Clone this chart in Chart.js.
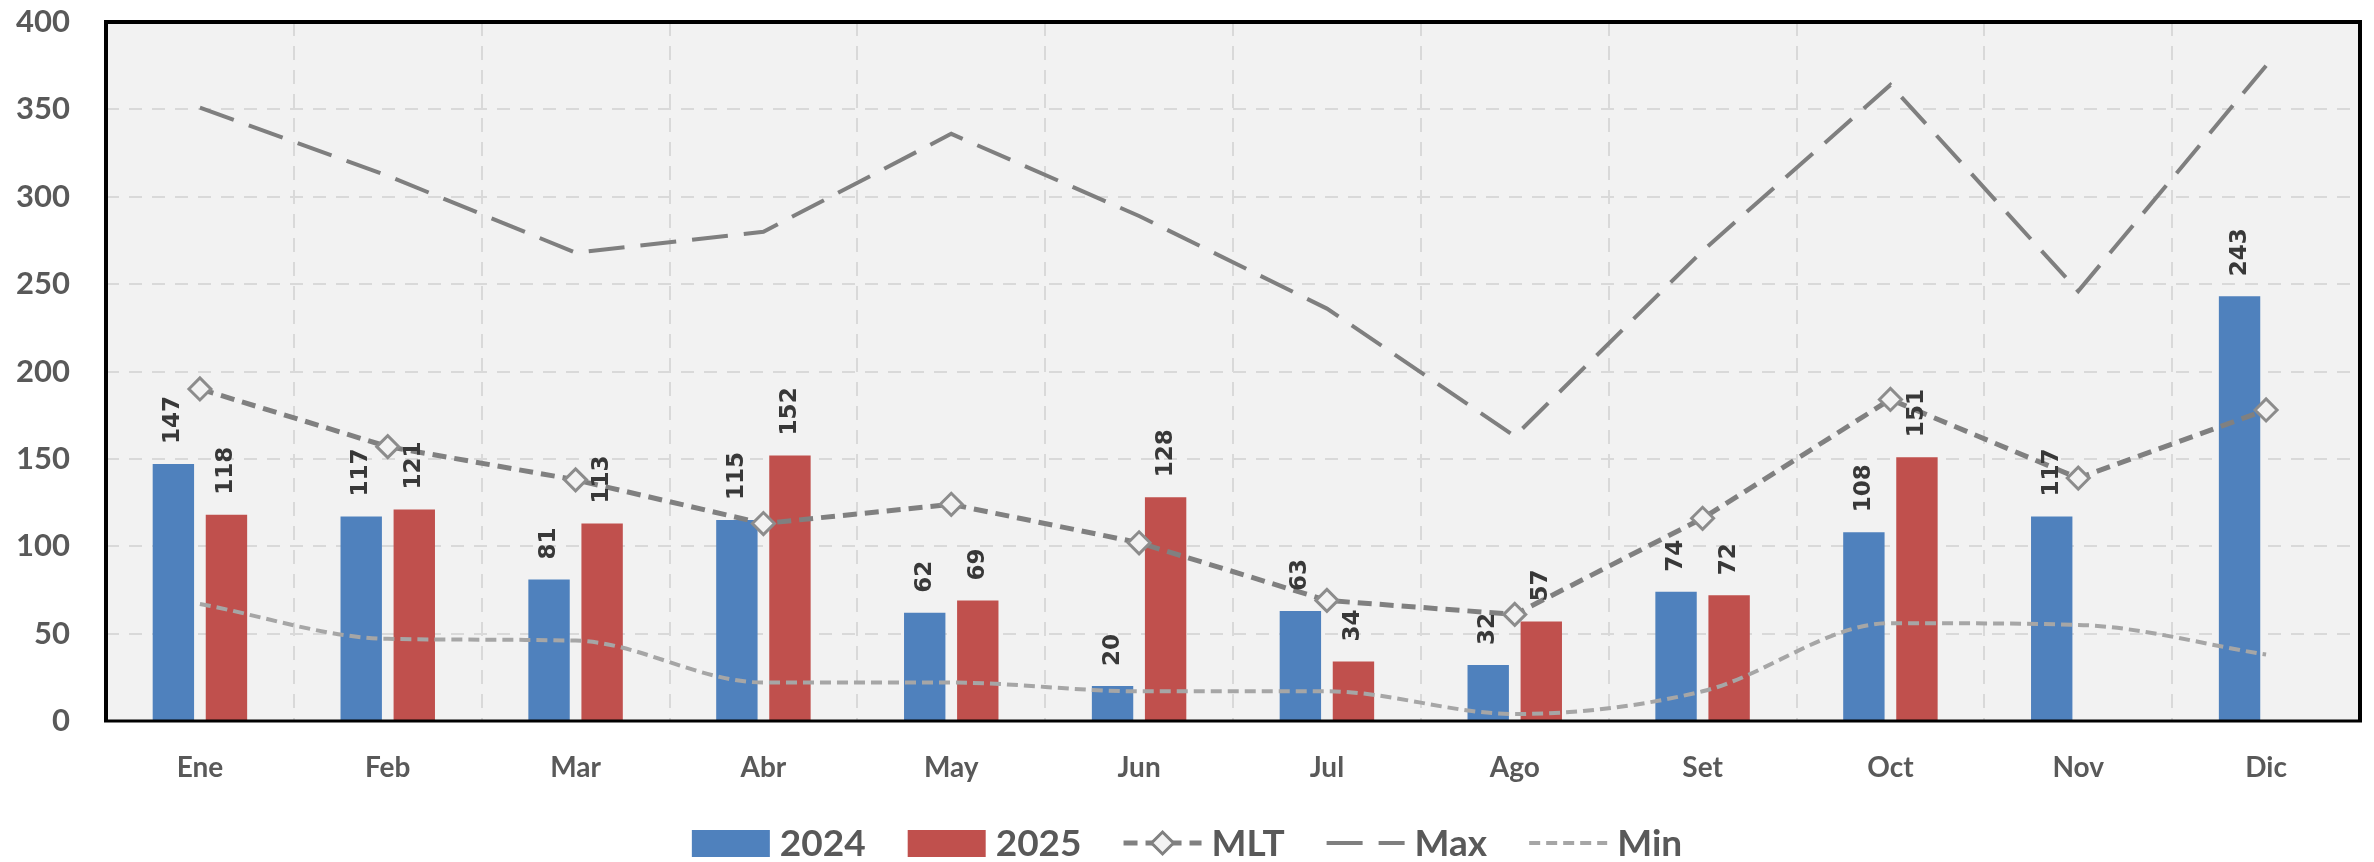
<!DOCTYPE html>
<html>
<head>
<meta charset="utf-8">
<script src="https://cdn.jsdelivr.net/npm/chart.js@4/dist/chart.umd.min.js"></script>
<style>
  html, body { margin: 0; padding: 0; background: #fff; }
  #wrap { width: 2374px; height: 862px; }
</style>
</head>
<body>
<div id="wrap"><canvas id="chart" width="2374" height="862"></canvas></div>
<script>
// data
const months = ['Ene', 'Feb', 'Mar', 'Abr', 'May', 'Jun', 'Jul', 'Ago', 'Set', 'Oct', 'Nov', 'Dic'];
const values2024 = [147, 117, 81, 115, 62, 20, 63, 32, 74, 108, 117, 243];
const values2025 = [118, 121, 113, 152, 69, 128, 34, 57, 72, 151, null, null];
const mltValues = [190, 157, 138, 113, 124, 102, 69, 61, 116, 184, 139, 178];
const maxValues = [351, 312, 268, 280, 336, 289, 236, 163, 269, 364, 246, 375];
const minValues = [67, 47, 46, 22, 22, 17, 17, 4, 17, 56, 55, 38];
const yTicks = [0, 50, 100, 150, 200, 250, 300, 350, 400];

const tickColor = '#595959';

// plot background and canvas background
const bgPlugin = {
  id: 'bg',
  beforeDraw(chart) {
    const { ctx, chartArea: a } = chart;
    ctx.save();
    ctx.fillStyle = '#ffffff';
    ctx.fillRect(0, 0, chart.width, chart.height);
    ctx.fillStyle = '#f2f2f2';
    ctx.fillRect(a.left, a.top, a.right - a.left, a.bottom - a.top);
    ctx.restore();
  }
};

// black frame round the plot, then the rotated bar labels
const frameAndLabels = {
  id: 'frameLabels',
  afterDatasetsDraw(chart) {
    const { ctx, chartArea: a } = chart;
    ctx.save();
    ctx.strokeStyle = '#000';
    ctx.lineWidth = 4;
    ctx.beginPath();
    ctx.moveTo(a.left, a.bottom);
    ctx.lineTo(a.left, a.top);
    ctx.lineTo(a.right, a.top);
    ctx.lineTo(a.right, a.bottom);
    ctx.stroke();
    ctx.lineWidth = 3;
    ctx.beginPath();
    ctx.moveTo(a.left - 2, a.bottom);
    ctx.lineTo(a.right + 2, a.bottom);
    ctx.stroke();

    ctx.fillStyle = '#383838';
    ctx.font = 'bold 23px "DejaVu Sans"';
    ctx.textAlign = 'left';
    ctx.textBaseline = 'middle';
    [0, 1].forEach(i => {
      const meta = chart.getDatasetMeta(i);
      const vals = chart.data.datasets[i].data;
      meta.data.forEach((bar, j) => {
        if (vals[j] == null) return;
        ctx.save();
        ctx.translate(bar.x, bar.y - 20);
        ctx.rotate(-Math.PI / 2);
        ctx.fillText(String(vals[j]), 0, 0);
        ctx.restore();
      });
    });
    ctx.restore();
  }
};

// legend drawn under the axis
const legendPlugin = {
  id: 'bottomLegend',
  afterDraw(chart) {
    const { ctx } = chart;
    const ds = chart.data.datasets;
    const cy = 843;
    const symW = 78, textGap = 10, itemGap = 42;
    ctx.save();
    ctx.font = 'bold 37px Lato';
    ctx.textBaseline = 'middle';
    const widths = ds.map(d => symW + textGap + ctx.measureText(d.label).width);
    const total = widths.reduce((s, w) => s + w, 0) + itemGap * (ds.length - 1);
    let x = chart.width / 2 - total / 2;
    ds.forEach((d, i) => {
      if (d.type === 'line') {
        ctx.save();
        ctx.strokeStyle = d.borderColor;
        ctx.lineWidth = d.borderWidth;
        ctx.setLineDash(d.borderDash || []);
        ctx.beginPath();
        ctx.moveTo(x, cy);
        ctx.lineTo(x + symW, cy);
        ctx.stroke();
        ctx.restore();
        if (d.pointRadius > 0) {
          const r = d.pointRadius;
          const mx = x + symW / 2;
          ctx.save();
          ctx.fillStyle = d.pointBackgroundColor;
          ctx.strokeStyle = d.borderColor;
          ctx.lineWidth = d.pointBorderWidth;
          ctx.beginPath();
          ctx.moveTo(mx, cy - r);
          ctx.lineTo(mx + r, cy);
          ctx.lineTo(mx, cy + r);
          ctx.lineTo(mx - r, cy);
          ctx.closePath();
          ctx.fill();
          ctx.stroke();
          ctx.restore();
        }
      } else {
        ctx.fillStyle = d.backgroundColor;
        ctx.fillRect(x, cy - 13, symW, 27);
      }
      ctx.fillStyle = tickColor;
      ctx.fillText(d.label, x + symW + textGap, cy + 1);
      x += widths[i] + itemGap;
    });
    ctx.restore();
  }
};

new Chart(document.getElementById('chart'), {
  type: 'bar',
  data: {
    labels: months,
    datasets: [
      {
        type: 'bar', label: '2024', data: values2024,
        backgroundColor: '#4f81bd', order: 3,
        categoryPercentage: 0.565, barPercentage: 0.78
      },
      {
        type: 'bar', label: '2025', data: values2025,
        backgroundColor: '#c0504d', order: 3,
        categoryPercentage: 0.565, barPercentage: 0.78
      },
      {
        type: 'line', label: 'MLT', data: mltValues,
        borderColor: '#808080', borderWidth: 5, borderDash: [14, 8],
        tension: 0, pointStyle: 'rectRot', pointRadius: 11,
        pointBorderWidth: 3, pointBackgroundColor: '#f2f2f2',
        pointBorderColor: '#8c8c8c', order: 1
      },
      {
        type: 'line', label: 'Max', data: maxValues,
        borderColor: '#7f7f7f', borderWidth: 4, borderDash: [36, 16],
        tension: 0, pointRadius: 0, order: 2
      },
      {
        type: 'line', label: 'Min', data: minValues,
        borderColor: '#a6a6a6', borderWidth: 4, borderDash: [11, 6],
        cubicInterpolationMode: 'monotone', pointRadius: 0, order: 2
      }
    ]
  },
  options: {
    responsive: false,
    animation: false,
    layout: { padding: { top: 22, right: 12, left: 0, bottom: 0 } },
    plugins: {
      legend: { display: false },
      tooltip: { enabled: false }
    },
    scales: {
      x: {
        afterFit: s => { s.height = 141; s.paddingLeft = 0; s.paddingRight = 0; },
        grid: {
          offset: true, color: '#d9d9d9', lineWidth: 2,
          drawTicks: false
        },
        border: { display: false, dash: [14, 10] },
        ticks: {
          color: tickColor, padding: 30,
          font: { family: 'Lato', size: 28, weight: 'bold' }
        }
      },
      y: {
        min: 0, max: 400,
        afterFit: s => { s.width = 106; s.paddingTop = 0; s.paddingBottom = 0; },
        afterBuildTicks: s => { s.ticks = yTicks.map(v => ({ value: v })); },
        grid: { color: '#d9d9d9', lineWidth: 2, drawTicks: false },
        border: { display: false, dash: [13, 10] },
        ticks: {
          color: tickColor, padding: 36,
          font: { family: 'Lato', size: 31, weight: 'bold' }
        }
      }
    }
  },
  plugins: [bgPlugin, frameAndLabels, legendPlugin]
});
</script>
</body>
</html>
